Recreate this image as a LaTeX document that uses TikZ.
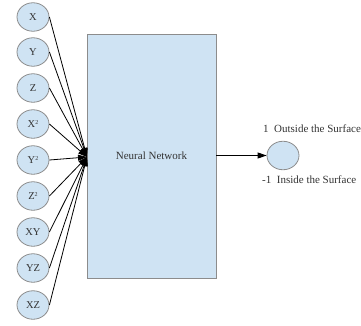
\documentclass[tikz,border=0pt]{standalone}
\usepackage{fontspec}
\setmainfont{Liberation Serif}
\usetikzlibrary{shapes.geometric,arrows.meta}
\definecolor{nnfill}{HTML}{CFE3F3}
\definecolor{nnedge}{HTML}{8C8C8C}
\newcommand{\supr}[1]{\raisebox{0.8ex}{\fontsize{6}{7}\selectfont #1}}
\tikzset{
  inp/.style={ellipse,draw=nnedge,fill=nnfill,line width=0.8pt,minimum width=32pt,minimum height=28.5pt,inner sep=0pt,font=\rmfamily\fontsize{10.5}{12}\selectfont,text=black!80},
  box/.style={rectangle,draw=nnedge,fill=nnfill,line width=0.8pt,minimum width=129pt,minimum height=244pt,inner sep=0pt,font=\rmfamily\fontsize{11}{13}\selectfont,text=black!80},
  conn/.style={-{Triangle[length=9pt,width=6pt]},line width=0.8pt,black},
  lbl/.style={font=\rmfamily\fontsize{11}{13}\selectfont,text=black!80,anchor=west,inner sep=0pt}
}
\begin{document}
\begin{tikzpicture}[x=1pt,y=-1pt]
\useasboundingbox (0,0) rectangle (361,325);
\node[box] (nn) at (151.5,156) {Neural Network};
\coordinate (in) at (87,157);
\node[inp] (x) at (33,17) {X};
\node[inp] (y) at (33,52) {Y};
\node[inp] (z) at (33,88) {Z};
\node[inp] (x2) at (33,124) {X\supr{2}};
\node[inp] (y2) at (33,160) {Y\supr{2}};
\node[inp] (z2) at (33,196) {Z\supr{2}};
\node[inp] (xy) at (33,232) {XY};
\node[inp] (yz) at (33,268) {YZ};
\node[inp] (xz) at (33,305) {XZ};
\foreach \n in {x,y,z,x2,y2,z2,xy,yz,xz}{
  \draw[conn] (\n.east) -- (in);
}
\node[inp] (out) at (283,155.5) {};
\draw[conn] (nn.east |- out) -- (out.west);
\node[lbl] (o1) at (263,129) {1\,\,\,Outside the Surface};
\node[lbl] (o2) at (262,180) {-1\,\,\,Inside the Surface};
\end{tikzpicture}
\end{document}
